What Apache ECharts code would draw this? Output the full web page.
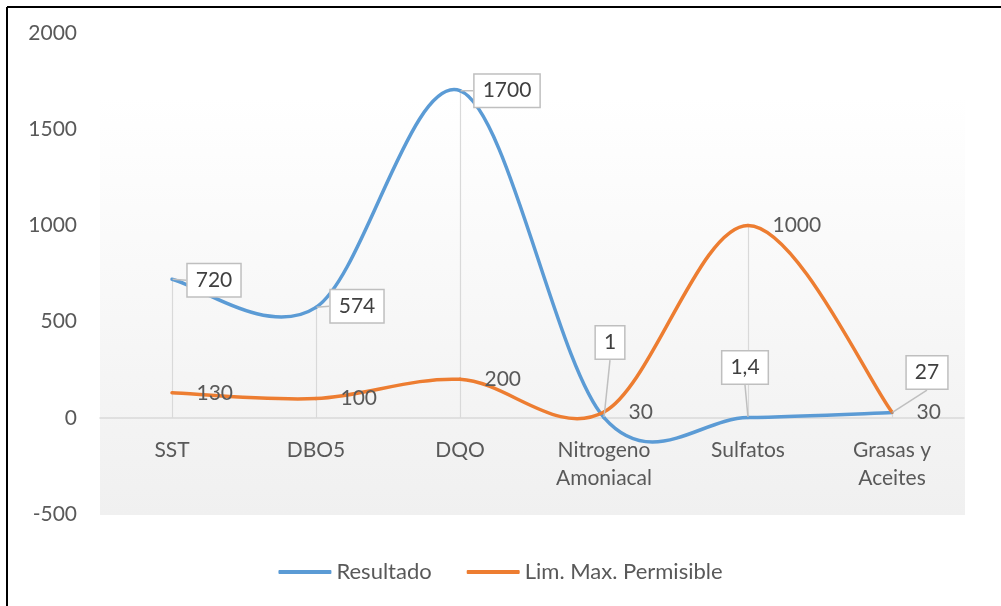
<!DOCTYPE html>
<html>
<head>
<meta charset="utf-8">
<script src="https://cdn.jsdelivr.net/npm/echarts@6/dist/echarts.min.js"></script>
<style>
html,body{margin:0;padding:0;background:#fff;}
#chart{width:1001px;height:606px;}
</style>
</head>
<body>
<div id="chart"></div>
<script>
const categories = ['SST', 'DBO5', 'DQO', 'Nitrogeno\nAmoniacal', 'Sulfatos', 'Grasas y\nAceites'];
const resultado = [720, 574, 1700, 1, 1.4, 27];
const resultadoLabels = ['720', '574', '1700', '1', '1,4', '27'];
const limite = [130, 100, 200, 30, 1000, 30];
const yTicks = { min: -500, max: 2000, interval: 500 };

// label box offsets (style only)
const calloutOffsets = [[42, 1], [41, -1], [47, 0], [6, -75], [-3, -50], [35, -40]];

const BLUE = '#5b9bd5', ORANGE = '#ed7d31';
const FONT = 'Lato';

const dropLines = categories.map((c, i) => [
  { coord: [i, 0] },
  { coord: [i, Math.max(resultado[i], limite[i])] }
]);

// Excel-like smoothed curve (Catmull-Rom, 1/6 tangent) through the library's coordinate system
function smoothCurveSeries(name, values, color) {
  return {
    name: name,
    type: 'custom',
    z: 2,
    silent: true,
    itemStyle: { color: color },
    data: values.map((v, i) => [i, v]),
    encode: { x: 0, y: 1 },
    renderItem: function (params, api) {
      const i = params.dataIndex;
      if (i >= values.length - 1) return null;
      const clampIdx = k => Math.max(0, Math.min(values.length - 1, k));
      const pt = k => api.coord([clampIdx(k), values[clampIdx(k)]]);
      const p0 = pt(i - 1), p1 = pt(i), p2 = pt(i + 1), p3 = pt(i + 2);
      const c1 = [p1[0] + (p2[0] - p0[0]) / 6, p1[1] + (p2[1] - p0[1]) / 6];
      const c2 = [p2[0] - (p3[0] - p1[0]) / 6, p2[1] - (p3[1] - p1[1]) / 6];
      return {
        type: 'bezierCurve',
        shape: { x1: p1[0], y1: p1[1], cpx1: c1[0], cpy1: c1[1], cpx2: c2[0], cpy2: c2[1], x2: p2[0], y2: p2[1] },
        style: { stroke: color, lineWidth: 3.5, fill: null, lineCap: 'round' }
      };
    }
  };
}

const chart = echarts.init(document.getElementById('chart'), null, { renderer: 'canvas' });

chart.setOption({
  animation: false,
  textStyle: { fontFamily: FONT },
  graphic: [
    {
      type: 'rect', z: -10, silent: true,
      shape: { x: 100, y: 97, width: 865, height: 418 },
      style: {
        fill: new echarts.graphic.LinearGradient(0, 0, 0, 1, [
          { offset: 0, color: '#ffffff' },
          { offset: 1, color: '#f0f0f0' }
        ])
      }
    },
    { type: 'line', z: 100, shape: { x1: 7, y1: 7, x2: 1001, y2: 7 }, style: { stroke: '#000', lineWidth: 2 } },
    { type: 'line', z: 100, shape: { x1: 7, y1: 7, x2: 7, y2: 606 }, style: { stroke: '#000', lineWidth: 2 } }
  ],
  grid: { left: 100, right: 37, top: 33, bottom: 92, containLabel: false },
  legend: {
    bottom: 18, left: 'center',
    icon: 'roundRect', itemWidth: 53, itemHeight: 4, itemGap: 35,
    textStyle: { fontFamily: FONT, fontSize: 22, color: '#595959' },
    data: [
      { name: 'Resultado', itemStyle: { color: BLUE } },
      { name: 'Lim. Max. Permisible', itemStyle: { color: ORANGE } }
    ]
  },
  xAxis: {
    type: 'category',
    data: categories,
    boundaryGap: true,
    offset: -96,
    axisLine: { onZero: false, lineStyle: { color: '#d9d9d9', width: 1.5 } },
    axisTick: { show: false },
    axisLabel: { fontFamily: FONT, fontSize: 21, color: '#595959', margin: 18, lineHeight: 28, interval: 0 },
    splitLine: { show: false }
  },
  yAxis: {
    type: 'value',
    min: yTicks.min, max: yTicks.max, interval: yTicks.interval,
    axisLine: { show: false },
    axisTick: { show: false },
    splitLine: { show: false },
    axisLabel: { fontFamily: FONT, fontSize: 21, color: '#595959', margin: 23, formatter: v => String(v) }
  },
  series: [
    smoothCurveSeries('Resultado', resultado, BLUE),
    smoothCurveSeries('Lim. Max. Permisible', limite, ORANGE),
    {
      name: 'Resultado',
      type: 'line',
      data: resultado,
      symbol: 'circle', symbolSize: 1,
      z: 4,
      lineStyle: { opacity: 0, width: 0 },
      itemStyle: { color: BLUE },
      label: {
        show: true,
        position: 'inside',
        formatter: p => resultadoLabels[p.dataIndex],
        fontFamily: FONT, fontSize: 21, color: '#404040',
        backgroundColor: '#ffffff',
        borderColor: '#bfbfbf', borderWidth: 1.5,
        padding: [6, 8, 5, 8]
      },
      labelLine: { show: true, lineStyle: { color: '#bfbfbf', width: 1.5 } },
      labelLayout: p => ({ dx: calloutOffsets[p.dataIndex][0], dy: calloutOffsets[p.dataIndex][1] }),
      markLine: {
        silent: true, symbol: 'none',
        label: { show: false },
        lineStyle: { color: '#d9d9d9', width: 1.2, type: 'solid' },
        data: dropLines,
        z: 1
      }
    },
    {
      name: 'Lim. Max. Permisible',
      type: 'line',
      data: limite,
      symbol: 'circle', symbolSize: 1,
      z: 3,
      lineStyle: { opacity: 0, width: 0 },
      itemStyle: { color: ORANGE },
      label: {
        show: true, position: 'right', distance: 24,
        fontFamily: FONT, fontSize: 21, color: '#595959'
      }
    }
  ]
});
</script>
</body>
</html>
